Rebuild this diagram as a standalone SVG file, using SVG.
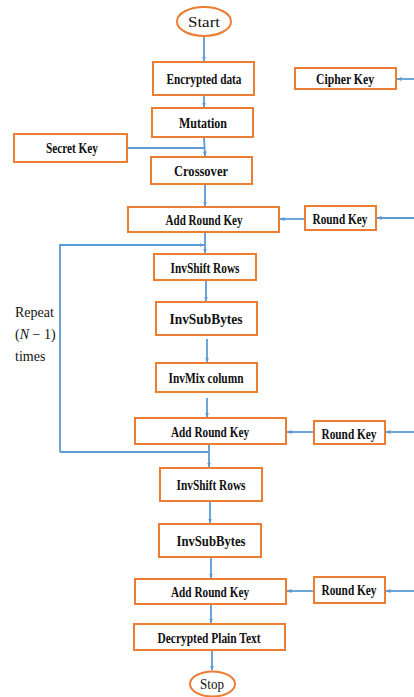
<svg xmlns="http://www.w3.org/2000/svg" width="414" height="697" viewBox="0 0 414 697">
<defs>
<marker id="ah" viewBox="0 0 10 10" refX="9" refY="5" markerWidth="5" markerHeight="5" orient="auto" markerUnits="userSpaceOnUse">
<path d="M0,1 L10,5 L0,9 Z" fill="#5B9BD5"/>
</marker>
<style>
.n{fill:#fff;stroke:#ED7D31;stroke-width:2}
.t{font-family:"Liberation Serif","Times New Roman",serif;font-weight:bold;font-size:15px;fill:#111;text-anchor:middle}
.s{font-family:"Liberation Serif","Times New Roman",serif;font-size:14px;fill:#111;text-anchor:middle}
.r{font-family:"Liberation Serif","Times New Roman",serif;font-size:14px;fill:#111}
.c{fill:none;stroke:#5B9BD5;stroke-width:1.8}
.a{marker-end:url(#ah)}
</style>
</defs>
<rect width="414" height="697" fill="#fff"/>
<g id="connectors">
<line class="c a" x1="204" y1="36" x2="204" y2="61"/>
<line class="c a" x1="204" y1="95" x2="204" y2="107"/>
<line class="c a" x1="414" y1="79" x2="397" y2="79"/>
<line class="c a" x1="204" y1="137" x2="205" y2="156"/>
<polyline class="c" points="127,148 204,148"/>
<line class="c a" x1="205" y1="184" x2="205" y2="206"/>
<line class="c a" x1="305" y1="219" x2="280" y2="219"/>
<line class="c a" x1="414" y1="218" x2="377" y2="218"/>
<line class="c a" x1="205" y1="232" x2="205" y2="253"/>
<polyline class="c a" points="60,452 60,245 204,245"/>
<line class="c a" x1="206" y1="280" x2="206" y2="301"/>
<line class="c a" x1="207" y1="339" x2="207" y2="362"/>
<line class="c a" x1="207" y1="398" x2="207" y2="417"/>
<line class="c a" x1="314" y1="432" x2="287" y2="432"/>
<line class="c a" x1="414" y1="432" x2="386" y2="432"/>
<line class="c" x1="60" y1="452" x2="209" y2="452"/>
<line class="c a" x1="209" y1="444" x2="209" y2="467"/>
<line class="c a" x1="210" y1="501" x2="210" y2="523"/>
<line class="c a" x1="211" y1="557" x2="211" y2="578"/>
<line class="c a" x1="314" y1="591" x2="287" y2="591"/>
<line class="c a" x1="414" y1="591" x2="386" y2="591"/>
<line class="c a" x1="211" y1="604" x2="211" y2="623"/>
<line class="c a" x1="212" y1="650" x2="212" y2="670"/>
</g>
<g id="start"><ellipse class="n" cx="204" cy="21.5" rx="27" ry="14.5"/><text class="s" x="204" y="27" textLength="32" lengthAdjust="spacingAndGlyphs">Start</text></g>
<g id="encrypted"><rect class="n" x="153" y="62" width="101" height="33"/><text class="t" x="204" y="84" textLength="75" lengthAdjust="spacingAndGlyphs">Encrypted data</text></g>
<g id="cipherkey"><rect class="n" x="295" y="68" width="101" height="21"/><text class="t" x="345" y="84" textLength="58" lengthAdjust="spacingAndGlyphs">Cipher  Key</text></g>
<g id="mutation"><rect class="n" x="152" y="108" width="101" height="29"/><text class="t" x="203" y="128" textLength="48" lengthAdjust="spacingAndGlyphs">Mutation</text></g>
<g id="secretkey"><rect class="n" x="14" y="134" width="113" height="28"/><text class="t" x="72" y="153" textLength="52" lengthAdjust="spacingAndGlyphs">Secret Key</text></g>
<g id="crossover"><rect class="n" x="151" y="157" width="101" height="27"/><text class="t" x="201" y="176" textLength="54" lengthAdjust="spacingAndGlyphs">Crossover</text></g>
<g id="addroundkey1"><rect class="n" x="128" y="207" width="151" height="25"/><text class="t" x="204" y="225" textLength="77" lengthAdjust="spacingAndGlyphs">Add Round Key</text></g>
<g id="roundkey1"><rect class="n" x="305" y="206" width="71" height="24"/><text class="t" x="340" y="224" textLength="55" lengthAdjust="spacingAndGlyphs">Round Key</text></g>
<g id="invshift1"><rect class="n" x="154" y="254" width="102" height="26"/><text class="t" x="205" y="273" textLength="69" lengthAdjust="spacingAndGlyphs">InvShift Rows</text></g>
<g id="invsub1"><rect class="n" x="156" y="302" width="101" height="33"/><text class="t" x="206" y="324" textLength="73" lengthAdjust="spacingAndGlyphs">InvSubBytes</text></g>
<g id="invmix"><rect class="n" x="156" y="363" width="101" height="29"/><text class="t" x="206" y="383" textLength="75" lengthAdjust="spacingAndGlyphs">InvMix column</text></g>
<g id="addroundkey2"><rect class="n" x="135" y="418" width="151" height="26"/><text class="t" x="210" y="437" textLength="78" lengthAdjust="spacingAndGlyphs">Add Round Key</text></g>
<g id="roundkey2"><rect class="n" x="314" y="421" width="71" height="23"/><text class="t" x="349" y="439" textLength="55" lengthAdjust="spacingAndGlyphs">Round Key</text></g>
<g id="invshift2"><rect class="n" x="160" y="468" width="102" height="33"/><text class="t" x="211" y="490" textLength="69" lengthAdjust="spacingAndGlyphs">InvShift Rows</text></g>
<g id="invsub2"><rect class="n" x="159" y="524" width="102" height="33"/><text class="t" x="211" y="546" textLength="69" lengthAdjust="spacingAndGlyphs">InvSubBytes</text></g>
<g id="addroundkey3"><rect class="n" x="135" y="579" width="151" height="25"/><text class="t" x="210" y="597" textLength="78" lengthAdjust="spacingAndGlyphs">Add Round Key</text></g>
<g id="roundkey3"><rect class="n" x="314" y="577" width="71" height="26"/><text class="t" x="349" y="595" textLength="55" lengthAdjust="spacingAndGlyphs">Round Key</text></g>
<g id="decrypted"><rect class="n" x="134" y="624" width="151" height="26"/><text class="t" x="209" y="643" textLength="103" lengthAdjust="spacingAndGlyphs">Decrypted Plain Text</text></g>
<g id="stop"><ellipse class="n" cx="212.5" cy="684" rx="22.5" ry="12.5"/><text class="s" x="212" y="689" textLength="24" lengthAdjust="spacingAndGlyphs">Stop</text></g>
<g id="repeatlabel">
<text class="r" x="15" y="317">Repeat</text>
<text class="r" x="15" y="339">(<tspan font-style="italic">N</tspan> − 1)</text>
<text class="r" x="15" y="361">times</text>
</g>
</svg>
